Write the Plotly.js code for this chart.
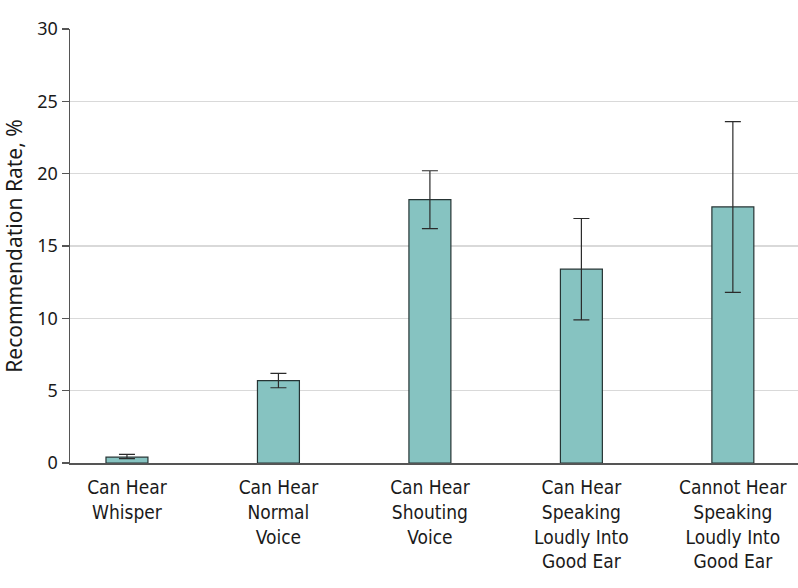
<!DOCTYPE html>
<html>
<head>
<meta charset="utf-8">
<script src="https://cdn.plot.ly/plotly-3.0.1.min.js"></script>
<style>html,body{margin:0;padding:0;background:#fff;}#chart{width:798px;height:588px;}</style>
</head>
<body>
<div id="chart"></div>
<script>
const categories = ["Can Hear<br>Whisper", "Can Hear<br>Normal<br>Voice", "Can Hear<br>Shouting<br>Voice", "Can Hear<br>Speaking<br>Loudly Into<br>Good Ear", "Cannot Hear<br>Speaking<br>Loudly Into<br>Good Ear"];
const rates = [0.4, 5.7, 18.2, 13.4, 17.7];
const ciLower = [0.3, 5.2, 16.2, 9.9, 11.8];
const ciUpper = [0.6, 6.2, 20.2, 16.9, 23.6];
const yTicks = [0, 5, 10, 15, 20, 25, 30];

const COND = '"DejaVu Sans Condensed", "Liberation Sans Narrow", sans-serif';
const SANS = '"Noto Sans", "Open Sans", sans-serif';

const trace = {
  type: 'bar',
  x: categories.map((c, i) => i),
  y: rates,
  width: 0.277,
  marker: {color: '#86c3c1', line: {color: '#263434', width: 1.2}},
  error_y: {
    type: 'data',
    symmetric: false,
    array: ciUpper.map((u, i) => u - rates[i]),
    arrayminus: rates.map((v, i) => v - ciLower[i]),
    color: '#2b2b2b',
    thickness: 1.2,
    width: 8
  },
  hoverinfo: 'none'
};

const layout = {
  width: 798, height: 588,
  margin: {l: 70, r: 0, t: 29, b: 125},
  paper_bgcolor: '#fff', plot_bgcolor: '#fff',
  showlegend: false,
  font: {family: SANS, size: 18, color: '#1a1a1a'},
  xaxis: {
    range: [-0.376, 4.43],
    tickmode: 'array',
    tickvals: categories.map((c, i) => i),
    ticktext: categories,
    showgrid: false,
    zeroline: false,
    showline: true, linecolor: '#555', linewidth: 1.5,
    ticks: '',
    ticklabelstandoff: 7,
    tickfont: {family: COND, size: 19, color: '#1a1a1a'},
    fixedrange: true
  },
  yaxis: {
    range: [0, 30],
    tickmode: 'array',
    tickvals: yTicks,
    ticktext: yTicks.map(String),
    showgrid: true, gridcolor: '#d9d9d9', gridwidth: 1.5,
    zeroline: false,
    showline: true, linecolor: '#555', linewidth: 1.5,
    ticks: 'outside', ticklen: 7, tickcolor: '#555', tickwidth: 1.5,
    tickfont: {family: SANS, size: 18, color: '#1a1a1a'},
    title: {text: 'Recommendation Rate, %', font: {family: SANS, size: 21, color: '#1a1a1a'}, standoff: 10},
    fixedrange: true
  }
};

Plotly.newPlot('chart', [trace], layout, {displayModeBar: false, staticPlot: true});
</script>
</body>
</html>
